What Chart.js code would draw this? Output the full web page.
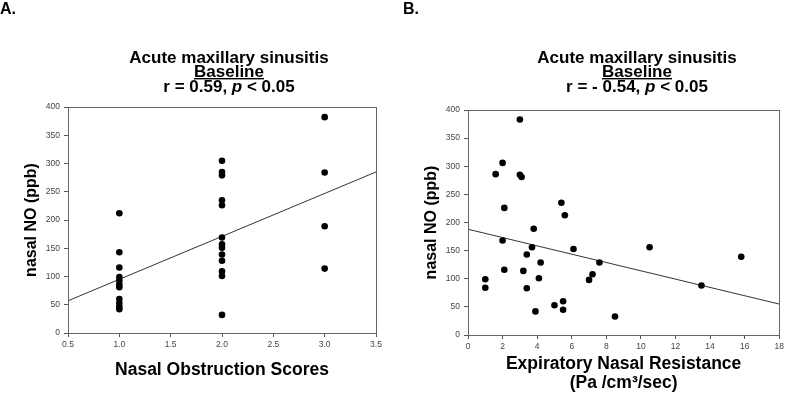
<!DOCTYPE html>
<html>
<head>
<meta charset="utf-8">
<script src="https://cdn.jsdelivr.net/npm/chart.js@4"></script>
<style>
  html, body { margin: 0; padding: 0; background: #fff; }
  #wrap { position: relative; width: 787px; height: 403px; }
  canvas { position: absolute; top: 0; }
  #chartA { left: 0; }
  #chartB { left: 393px; }
</style>
</head>
<body>
<div id="wrap">
  <canvas id="chartA" width="393" height="403"></canvas>
  <canvas id="chartB" width="394" height="403"></canvas>
</div>
<script>
// Panel A: nasal NO vs nasal obstruction score
const obstructionScores = [1, 1, 1, 1, 1, 1, 1, 1, 1, 1, 1,
  2, 2, 2, 2, 2, 2, 2, 2, 2, 2, 2, 2, 2,
  3, 3, 3, 3];
const nasalNoA = [212, 143, 116, 99, 93, 86, 81, 60, 53, 47, 42,
  305, 285, 279, 235, 226, 169, 157, 151, 139, 128, 109, 101, 32,
  382, 284, 189, 114];
const fitAX = [0.5, 3.5];
const fitAY = [57, 285];
const ticksA = [0.5, 1.0, 1.5, 2.0, 2.5, 3.0, 3.5];

// Panel B: nasal NO vs expiratory nasal resistance
const resistance = [1.0, 1.0, 1.6, 2.0, 2.1, 2.0, 2.1, 3.0, 3.0, 3.1, 3.8,
  3.7, 3.4, 4.2, 3.2, 4.1, 3.4, 3.9, 5.4, 5.6, 6.1, 5.0, 5.5, 5.5,
  7.0, 7.2, 7.6, 8.5, 10.5, 13.5, 15.8];
const nasalNoB = [99, 84, 286, 306, 226, 168, 116, 383, 285, 281, 189,
  156, 143, 129, 114, 101, 83, 42, 235, 213, 153, 53, 60, 45,
  98, 108, 129, 33, 156, 88, 139];
const fitBX = [0, 18];
const fitBY = [188, 55];
const ticksB = [0, 2, 4, 6, 8, 10, 12, 14, 16, 18];

const yTicks = [0, 50, 100, 150, 200, 250, 300, 350, 400];

const FONT = '"Liberation Sans", Arial, sans-serif';
const AXIS_GREY = '#555';

// headline block + panel letter, drawn above the plot
function headingPlugin(cfg) {
  return {
    id: 'heading',
    afterDraw(chart) {
      const ctx = chart.ctx;
      const area = chart.chartArea;
      ctx.save();
      ctx.fillStyle = '#000';
      ctx.textBaseline = 'alphabetic';
      ctx.textAlign = 'left';

      ctx.font = 'bold 16px ' + FONT;
      ctx.fillText(cfg.letter, cfg.letterX, 14);

      const drawLine = (parts, y) => {
        let total = 0;
        parts.forEach(p => {
          ctx.font = p.font;
          total += ctx.measureText(p.text).width;
        });
        let x = cfg.cx - total / 2;
        parts.forEach(p => {
          ctx.font = p.font;
          ctx.fillText(p.text, x, y);
          x += ctx.measureText(p.text).width;
        });
        return total;
      };
      const bold = 'bold 17px ' + FONT;
      const boldItalic = 'italic bold 17px ' + FONT;
      drawLine([{ text: 'Acute maxillary sinusitis', font: bold }], cfg.y0);
      const w = drawLine([{ text: 'Baseline', font: bold }], cfg.y0 + 13.5);
      ctx.fillRect(cfg.cx - w / 2, cfg.y0 + 15, w, 1.4);
      drawLine([
        { text: cfg.rText, font: bold },
        { text: 'p', font: boldItalic },
        { text: ' < 0.05', font: bold }
      ], cfg.y0 + 29);

      // plot frame
      ctx.strokeStyle = '#666';
      ctx.lineWidth = 1;
      ctx.strokeRect(Math.round(area.left) + 0.5, Math.round(area.top) + 0.5,
        Math.round(area.right - area.left), Math.round(area.bottom - area.top));
      ctx.restore();
    }
  };
}

function makeScatter(canvas, opts) {
  const points = opts.xs.map((x, i) => ({ x: x, y: opts.ys[i] }));
  const fit = opts.fitX.map((x, i) => ({ x: x, y: opts.fitY[i] }));
  return new Chart(canvas, {
    type: 'scatter',
    data: {
      datasets: [
        {
          data: points,
          backgroundColor: '#000',
          borderColor: '#000',
          pointRadius: 3.3,
          pointBorderWidth: 0
        },
        {
          type: 'line',
          data: fit,
          borderColor: '#333',
          borderWidth: 1,
          pointRadius: 0,
          fill: false
        }
      ]
    },
    options: {
      responsive: false,
      animation: false,
      events: [],
      layout: { padding: opts.padding },
      plugins: { legend: { display: false }, tooltip: { enabled: false } },
      scales: {
        x: {
          type: 'linear',
          min: opts.xTicks[0],
          max: opts.xTicks[opts.xTicks.length - 1],
          afterBuildTicks: s => { s.ticks = opts.xTicks.map(v => ({ value: v })); },
          afterFit: s => { s.height = opts.xHeight; },
          grid: { display: true, drawOnChartArea: false, drawTicks: true, tickLength: 4, color: AXIS_GREY },
          border: { display: true, color: AXIS_GREY },
          ticks: {
            padding: 3,
            maxRotation: 0,
            color: '#444',
            font: { family: FONT, size: 8.5 },
            callback: v => opts.xFormat(v)
          },
          title: {
            display: true,
            text: opts.xTitle,
            color: '#000',
            font: { family: FONT, size: 17.5, weight: 'bold', lineHeight: opts.xTitleLine },
            padding: { top: 0, bottom: opts.xTitlePad }
          }
        },
        y: {
          type: 'linear',
          min: 0,
          max: 400,
          afterBuildTicks: s => { s.ticks = yTicks.map(v => ({ value: v })); },
          afterFit: s => { s.width = opts.yWidth; },
          grid: { display: true, drawOnChartArea: false, drawTicks: true, tickLength: 4, color: AXIS_GREY },
          border: { display: true, color: AXIS_GREY },
          ticks: {
            padding: 4,
            color: '#444',
            font: { family: FONT, size: 8.5 }
          },
          title: {
            display: true,
            text: 'nasal NO (ppb)',
            color: '#000',
            font: { family: FONT, size: 16, weight: 'bold', lineHeight: 1.2 },
            padding: { top: opts.yTitlePad, bottom: 0 }
          }
        }
      }
    },
    plugins: [headingPlugin(opts.heading)]
  });
}

makeScatter(document.getElementById('chartA'), {
  xs: obstructionScores,
  ys: nasalNoA,
  fitX: fitAX,
  fitY: fitAY,
  xTicks: ticksA,
  xFormat: v => Number(v).toFixed(1),
  padding: { left: 0, top: 107, right: 17, bottom: 0 },
  xHeight: 70,
  yWidth: 68,
  xTitle: 'Nasal Obstruction Scores',
  xTitleLine: 1.2,
  xTitlePad: 22.5,
  yTitlePad: 22.4,
  heading: { letter: 'A.', letterX: 0, cx: 229, y0: 63, rText: 'r = 0.59, ' }
});

makeScatter(document.getElementById('chartB'), {
  xs: resistance,
  ys: nasalNoB,
  fitX: fitBX,
  fitY: fitBY,
  xTicks: ticksB,
  xFormat: v => String(v),
  padding: { left: 0, top: 110, right: 6, bottom: 0 },
  xHeight: 68,
  yWidth: 75,
  xTitle: ['Expiratory Nasal Resistance', '(Pa /cm\u00B3/sec)'],
  xTitleLine: '19px',
  xTitlePad: 10.5,
  yTitlePad: 29.4,
  heading: { letter: 'B.', letterX: 10, cx: 244, y0: 63, rText: 'r = - 0.54, ' }
});
</script>
</body>
</html>
